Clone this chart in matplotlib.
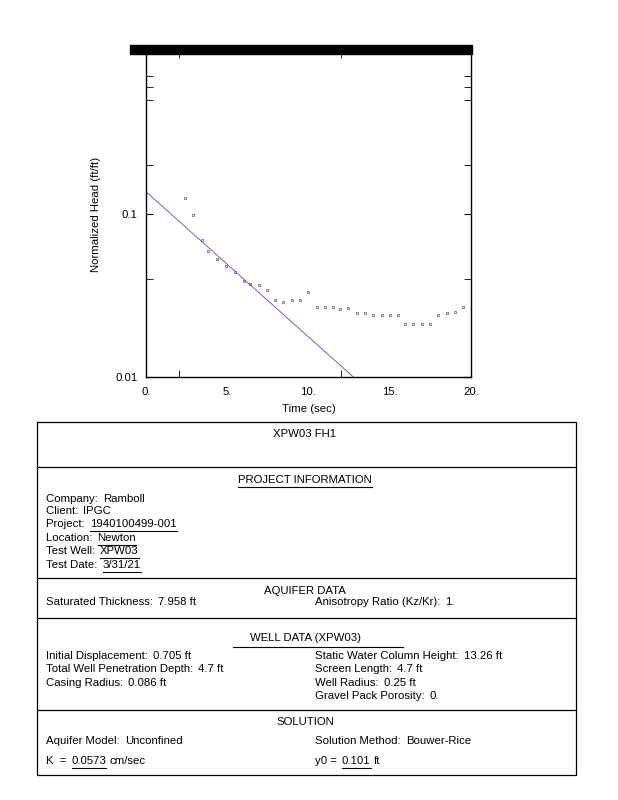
import numpy as np
import matplotlib
matplotlib.use('Agg')
import matplotlib.pyplot as plt
from matplotlib.patches import Rectangle
from matplotlib.ticker import FixedLocator, FixedFormatter

plt.rcParams['font.family'] = ['Liberation Sans', 'DejaVu Sans']
plt.rcParams['font.size'] = 8.2

# observed data (normalized head vs time)
time_s = [2.4, 2.9, 3.43, 3.84, 4.35, 4.9, 5.45, 6.0, 6.4, 6.97, 7.43, 7.94,
          8.45, 8.96, 9.48, 9.99, 10.5, 11.0, 11.5, 11.94, 12.45, 12.97, 13.48,
          13.99, 14.5, 15.0, 15.5, 15.94, 16.45, 16.96, 17.47, 17.99, 18.5,
          19.0, 19.5]
head = [0.125, 0.099, 0.069, 0.059, 0.053, 0.048, 0.044, 0.039, 0.037, 0.0367,
        0.034, 0.0297, 0.029, 0.0297, 0.0297, 0.0333, 0.027, 0.027, 0.027,
        0.026, 0.0265, 0.0246, 0.0246, 0.024, 0.024, 0.024, 0.024, 0.021,
        0.021, 0.021, 0.021, 0.024, 0.0246, 0.025, 0.0268]

# Bouwer-Rice fitted line
fit_t = [0.0, 12.76]
fit_h = [0.137, 0.01]

x_ticks = [0, 5, 10, 15, 20]
x_labels = ['0.', '5.', '10.', '15.', '20.']
y_ticks = [0.01, 0.1, 1.0]
y_labels = ['0.01', '0.1', '']

W, H = 618, 800
fig = plt.figure(figsize=(W / 100, H / 100), dpi=100)

# plot area
ax = fig.add_axes([146 / W, 1 - 377 / H, 325 / W, 326 / H])
ax.semilogy(fit_t, fit_h, color='#4a4ae0', lw=0.6)
ax.plot(time_s, head, ls='none', marker='s', markersize=2.0,
        mfc='none', mec='#555555', mew=0.5)
ax.set_xlim(0, 20)
ax.set_ylim(0.01, 1.0)

ax.xaxis.set_major_locator(FixedLocator(x_ticks))
ax.xaxis.set_major_formatter(FixedFormatter(x_labels))
ax.xaxis.set_minor_locator(FixedLocator([2, 5, 12, 15]))
ax.yaxis.set_major_locator(FixedLocator(y_ticks))
ax.yaxis.set_major_formatter(FixedFormatter(y_labels))
ax.yaxis.set_minor_locator(FixedLocator([0.04, 0.2, 0.5, 0.6, 0.7]))
ax.yaxis.set_minor_formatter(FixedFormatter([]))
ax.tick_params(axis='x', which='major', length=0, pad=7)
ax.tick_params(axis='y', which='major', length=5, pad=6, direction='in',
               right=True)
ax.tick_params(which='minor', length=5, direction='in', top=True, right=True)
for s in ax.spines.values():
    s.set_linewidth(1.0)

ax.set_xlabel('Time (sec)')
ax.xaxis.set_label_coords(0.5, -0.082)
ax.set_ylabel('Normalized Head (ft/ft)')
ax.yaxis.set_label_coords(-0.138, 0.5)

# black bar over the top of the plot
fig.add_artist(Rectangle((130 / W, 1 - 54 / H), 342 / W, 9 / H,
                         transform=fig.transFigure, color='black'))

# info table drawn in pixel coordinates
ov = fig.add_axes([0, 0, 1, 1], zorder=-1)
ov.set_xlim(0, W)
ov.set_ylim(H, 0)
ov.axis('off')
r = fig.canvas.get_renderer()

L, R = 36.5, 575.5
ov.plot([L, R, R, L, L], [422, 422, 775, 775, 422], color='k', lw=0.9)
for yy in [467, 578, 618, 710]:
    ov.plot([L, R], [yy, yy], color='k', lw=0.9)


def uline(t, dy=7, x0=None, x1=None):
    bb = t.get_window_extent(r)
    y = H - (bb.y0 + bb.y1) / 2 + dy
    ov.plot([bb.x0 if x0 is None else x0, bb.x1 if x1 is None else x1],
            [y, y], color='k', lw=0.8)


def pair(x, y, label, value, underline=False, gap=' '):
    t = ov.text(x, y, label + gap, ha='left', va='center')
    bb = t.get_window_extent(r)
    v = ov.text(bb.x1 + 2, y, value, ha='left', va='center')
    if underline:
        uline(v)
    return v


cx = 305
ov.text(cx, 434, 'XPW03 FH1', ha='center', va='center')
uline(ov.text(cx, 480, 'PROJECT INFORMATION', ha='center', va='center'))

lx, rx = 46, 315
pair(lx, 499, 'Company:', 'Ramboll')
pair(lx, 511, 'Client:', 'IPGC')
pair(lx, 524, 'Project:', '1940100499-001', True)
pair(lx, 538, 'Location:', 'Newton', True)
pair(lx, 551, 'Test Well:', 'XPW03', True)
pair(lx, 565, 'Test Date:', '3/31/21', True)

ov.text(cx, 591, 'AQUIFER DATA', ha='center', va='center')
pair(lx, 602, 'Saturated Thickness:', '7.958 ft')
pair(rx, 602, 'Anisotropy Ratio (Kz/Kr):', '1.')

uline(ov.text(cx, 638, 'WELL DATA (XPW03)', ha='center', va='center'),
      dy=8.5, x0=233, x1=403)
pair(lx, 656, 'Initial Displacement:', '0.705 ft')
pair(lx, 669, 'Total Well Penetration Depth:', '4.7 ft')
pair(lx, 683, 'Casing Radius:', '0.086 ft')
pair(rx, 656, 'Static Water Column Height:', '13.26 ft')
pair(rx, 669, 'Screen Length:', '4.7 ft')
pair(rx, 683, 'Well Radius:', '0.25 ft')
pair(rx, 696, 'Gravel Pack Porosity:', '0.')

ov.text(cx, 722, 'SOLUTION', ha='center', va='center')
pair(lx, 741, 'Aquifer Model:', 'Unconfined')
pair(rx, 741, 'Solution Method:', 'Bouwer-Rice')
k = pair(lx, 761, 'K  =', '0.0573', True)
ov.text(k.get_window_extent(r).x1 + 3, 761, 'cm/sec', ha='left', va='center')
y0 = pair(rx, 761, 'y0 =', '0.101', True)
ov.text(y0.get_window_extent(r).x1 + 3, 761, 'ft', ha='left', va='center')

fig.savefig('out.png', dpi=100)
